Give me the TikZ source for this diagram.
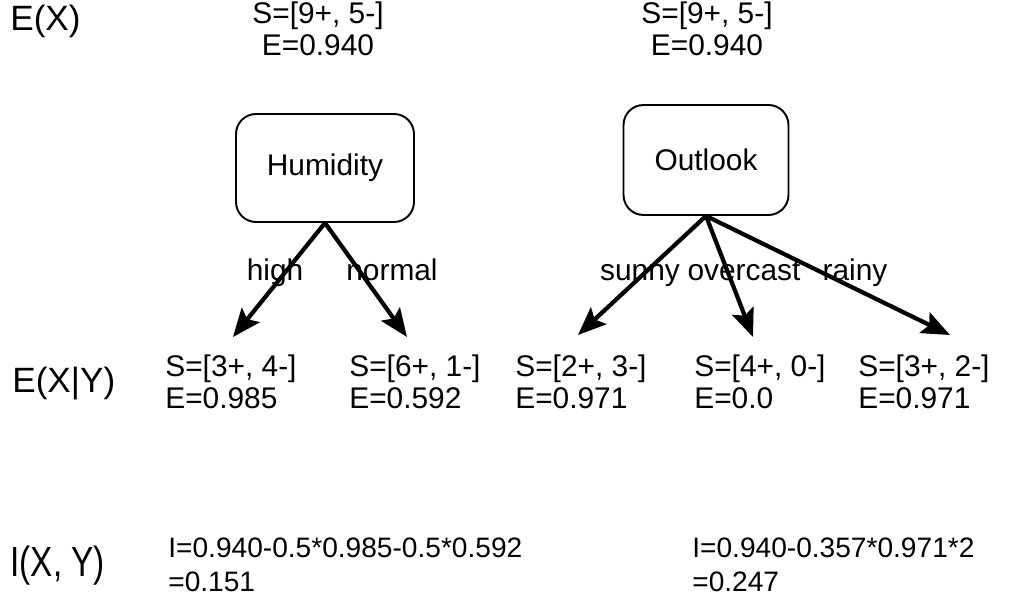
\documentclass[tikz,border=0pt]{standalone}
\usepackage{fontspec}
\setmainfont{Liberation Sans}
\usetikzlibrary{arrows.meta}

\begin{document}
\begin{tikzpicture}[x=0.02cm, y=-0.02cm,
    attr/.style={draw, line width=1.1pt, rounded corners=0.4cm,
      font=\fontsize{17}{20}\selectfont},
    stat/.style={inner sep=0pt, anchor=west, align=left,
      font=\fontsize{17}{18.5}\selectfont},
    side/.style={inner sep=0pt, anchor=west, font=\fontsize{20}{24}\selectfont},
    branch/.style={inner sep=0pt, anchor=base, font=\fontsize{17}{20}\selectfont},
    edge/.style={line width=2.4pt, -{Stealth[length=16pt, width=13pt, inset=3pt]}}]

  \useasboundingbox (0,0) rectangle (1009,597);

  % Row labels
  \node[side] (ex)  at (10,21)  {E(X)};
  \node[side] (exy) at (12,383) {E(X|Y)};
  \node[side] (ixy) at (10,566) {\scalebox{0.95}[1.2]{I(X, Y)}};

  % Whole set
  \node[stat, anchor=center, align=center] (rootH) at (318,29) {S=[9+, 5-]\\E=0.940};
  \node[stat, anchor=center, align=center] (rootO) at (707,29) {S=[9+, 5-]\\E=0.940};

  % Attributes
  \node[attr, minimum width=3.56cm, minimum height=2.16cm] (humidity) at (325,168) {Humidity};
  \node[attr, minimum width=3.3cm, minimum height=2.2cm]   (outlook)  at (706,160) {Outlook};

  % Subsets
  \node[stat] (high)     at (165,382) {S=[3+, 4-]\\E=0.985};
  \node[stat] (normal)   at (349,382) {S=[6+, 1-]\\E=0.592};
  \node[stat] (sunny)    at (515,382) {S=[2+, 3-]\\E=0.971};
  \node[stat] (overcast) at (694,382) {S=[4+, 0-]\\E=0.0};
  \node[stat] (rainy)    at (858,382) {S=[3+, 2-]\\E=0.971};

  % Gains
  \node[stat, font=\fontsize{16}{19.3}\selectfont] (gainH) at (168,565) {I=0.940-0.5*0.985-0.5*0.592\\=0.151};
  \node[stat, font=\fontsize{16}{19.3}\selectfont] (gainO) at (692,565) {I=0.940-0.357*0.971*2\\=0.247};

  % Branch labels
  \node[branch] (lHigh)     at (275,281) {high};
  \node[branch] (lNormal)   at (392,281) {normal};
  \node[branch] (lSunny)    at (640,281) {sunny};
  \node[branch] (lOvercast) at (744,281) {overcast};
  \node[branch] (lRainy)    at (855,281) {rainy};

  \coordinate (tHigh)     at (233,337);
  \coordinate (tNormal)   at (407,337);
  \coordinate (tSunny)    at (578,335);
  \coordinate (tOvercast) at (753,337);
  \coordinate (tRainy)    at (950,335);

  % Branches
  \draw[edge] (humidity.south) -- (tHigh);
  \draw[edge] (humidity.south) -- (tNormal);
  \draw[edge] (outlook.south) -- (tSunny);
  \draw[edge] (outlook.south) -- (tOvercast);
  \draw[edge] (outlook.south) -- (tRainy);

\end{tikzpicture}
\end{document}
